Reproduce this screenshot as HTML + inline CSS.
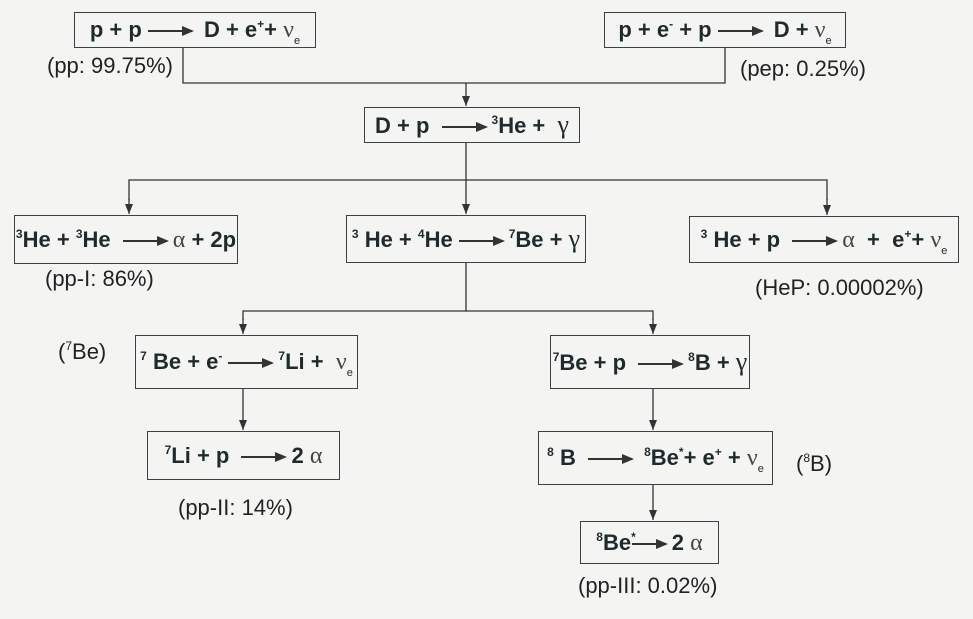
<!DOCTYPE html>
<html><head><meta charset="utf-8"><style>
body{margin:0;background:#f4f5f3;}
#c{position:relative;width:973px;height:619px;overflow:hidden;font-family:"Liberation Sans",sans-serif;color:#1f2a2c;}
.b{position:absolute;border:1.5px solid #3a4244;box-sizing:border-box;display:flex;align-items:center;justify-content:center;font-weight:bold;font-size:22px;white-space:nowrap;}
.b>span.t{display:block;line-height:24px;}
.l{position:absolute;font-size:22px;white-space:nowrap;color:#222;}
sup{font-size:12px;vertical-align:9px;line-height:0;}
sub{font-size:11px;vertical-align:-7px;font-weight:normal;line-height:0;}
.g{font-family:"Liberation Serif",serif;font-weight:normal;font-size:26px;}
.n{font-family:"Liberation Serif",serif;font-weight:normal;font-size:24px;color:#444;}
.a{display:inline-block;width:44px;height:2px;background:#333;position:relative;vertical-align:middle;margin:0 6px;}
.a:after{content:"";position:absolute;right:-2px;top:-4px;border-left:12px solid #333;border-top:5px solid transparent;border-bottom:5px solid transparent;}
svg{position:absolute;left:0;top:0;}
</style></head><body><div id="c">
<svg width="973" height="619">
<defs><marker id="m" markerWidth="10" markerHeight="8" refX="10" refY="4" orient="auto" markerUnits="userSpaceOnUse"><path d="M0,0 L10,4 L0,8z" fill="#333"/></marker></defs>
<g stroke="#333" stroke-width="1.3" fill="none">
<path d="M183 48 V83 H725 V48"/>
<path d="M466 83 V106" marker-end="url(#m)"/>
<path d="M466 143 V214" marker-end="url(#m)"/>
<path d="M129 200 V180 H827 V200"/>
<path d="M129 199 V214" marker-end="url(#m)"/>
<path d="M827 199 V215" marker-end="url(#m)"/>
<path d="M466 263 V311 H243 V320"/>
<path d="M243 319 V334" marker-end="url(#m)"/>
<path d="M466 311 H653 V320"/>
<path d="M653 319 V334" marker-end="url(#m)"/>
<path d="M243 389 V430" marker-end="url(#m)"/>
<path d="M653 389 V430" marker-end="url(#m)"/>
<path d="M653 485 V520" marker-end="url(#m)"/>
</g></svg>
<div class="b" style="left:74px;top:12px;width:242px;height:36px"><span class="t">p + p<span class="a"></span>&nbsp;D + e<sup>+</sup>+ <span class="n">ν</span><sub>e</sub></span></div>
<div class="l" style="left:47px;top:53px">(pp: 99.75%)</div>
<div class="b" style="left:604px;top:12px;width:242px;height:36px"><span class="t">p + e<sup>-</sup> + p<span class="a"></span>&nbsp;D + <span class="n">ν</span><sub>e</sub></span></div>
<div class="l" style="left:740px;top:56px">(pep: 0.25%)</div>
<div class="b" style="left:364px;top:107px;width:216px;height:36px"><span class="t">D + p <span class="a"></span><sup>3</sup>He + &nbsp;<span class="g">γ</span></span></div>
<div class="b" style="left:14px;top:215px;width:224px;height:49px"><span class="t"><sup>3</sup>He + <sup>3</sup>He <span class="a"></span><span class="n">α</span>&nbsp;+ 2p</span></div>
<div class="l" style="left:45px;top:266px">(pp-I: 86%)</div>
<div class="b" style="left:346px;top:215px;width:240px;height:48px"><span class="t"><sup>3</sup>&nbsp;He + <sup>4</sup>He<span class="a"></span><sup>7</sup>Be + <span class="g">γ</span></span></div>
<div class="b" style="left:689px;top:216px;width:270px;height:47px"><span class="t"><sup>3</sup>&nbsp;He + p <span class="a"></span><span class="n">α</span>&nbsp; + &nbsp;e<sup>+</sup>+ <span class="n">ν</span><sub>e</sub></span></div>
<div class="l" style="left:755px;top:275px">(HeP: 0.00002%)</div>
<div class="l" style="left:58px;top:339px">(<sup>7</sup>Be)</div>
<div class="b" style="left:135px;top:335px;width:223px;height:54px"><span class="t"><sup>7</sup>&nbsp;Be + e<sup>-</sup><span class="a"></span><sup>7</sup>Li + &nbsp;<span class="n">ν</span><sub>e</sub></span></div>
<div class="b" style="left:550px;top:335px;width:200px;height:54px"><span class="t"><sup>7</sup>Be + p <span class="a"></span><sup>8</sup>B + <span class="g">γ</span></span></div>
<div class="b" style="left:147px;top:431px;width:193px;height:49px"><span class="t"><sup>7</sup>Li + p <span class="a"></span>2 <span class="n">α</span></span></div>
<div class="l" style="left:178px;top:495px">(pp-II: 14%)</div>
<div class="b" style="left:538px;top:431px;width:235px;height:54px"><span class="t"><sup>8</sup>&nbsp;B <span class="a"></span>&nbsp;<sup>8</sup>Be<sup>*</sup>+ e<sup>+</sup> + <span class="n">ν</span><sub>e</sub></span></div>
<div class="l" style="left:796px;top:451px">(<sup>8</sup>B)</div>
<div class="b" style="left:580px;top:521px;width:139px;height:43px"><span class="t"><sup>8</sup>Be<sup>*</sup><span class="a" style="width:34px;margin-left:-4px"></span>2 <span class="n">α</span></span></div>
<div class="l" style="left:578px;top:573px">(pp-III: 0.02%)</div>
</div></body></html>
